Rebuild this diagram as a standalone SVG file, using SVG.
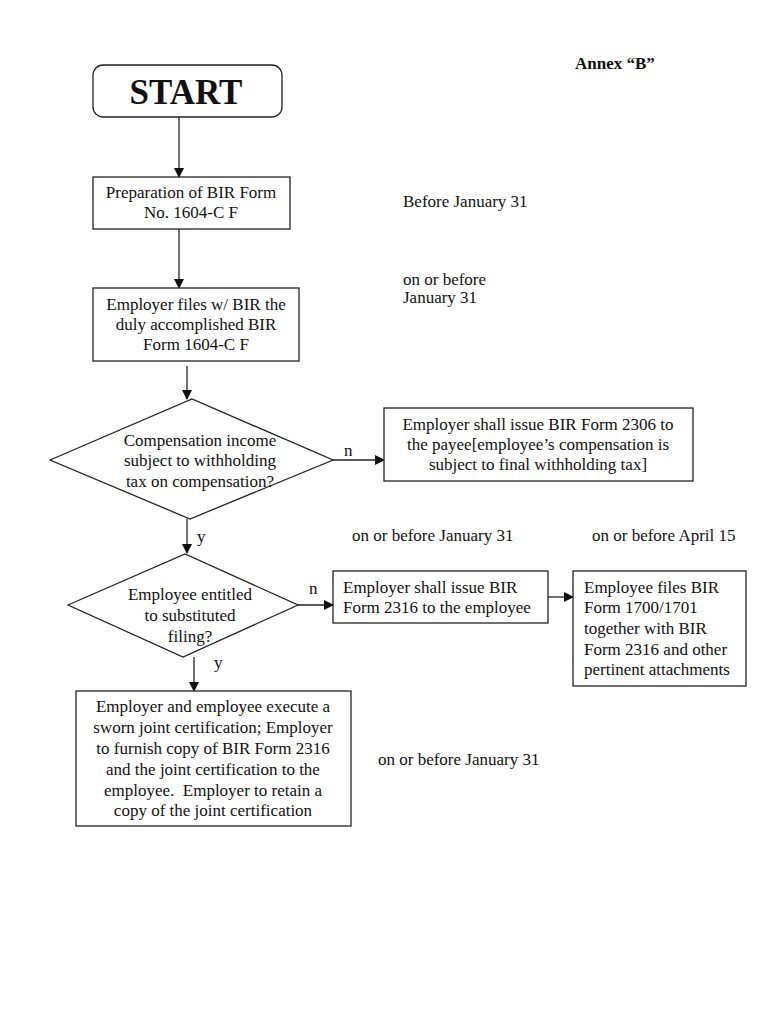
<svg xmlns="http://www.w3.org/2000/svg" width="768" height="1024" viewBox="0 0 768 1024">
<defs>
<marker id="ah" markerWidth="10" markerHeight="10" refX="9" refY="5" orient="auto" markerUnits="userSpaceOnUse">
<path d="M0,0 L10,5 L0,10 Z" fill="#111"/>
</marker>
<style>
.box{fill:#fff;stroke:#222;stroke-width:1.3}
.t{font-family:"Liberation Serif","Times New Roman",serif;font-size:17px;fill:#111}
.c{text-anchor:middle}
.ln{stroke:#222;stroke-width:1.3;fill:none;marker-end:url(#ah)}
</style>
</defs>
<rect width="768" height="1024" fill="#fff"/>
<text class="t" x="575" y="69" style="font-weight:bold">Annex “B”</text>

<g id="connectors">
<line class="ln" x1="179" y1="117" x2="179" y2="177"/>
<line class="ln" x1="179" y1="229" x2="179" y2="288"/>
<line class="ln" x1="187" y1="366" x2="187" y2="399"/>
<line class="ln" x1="333" y1="460" x2="384" y2="460"/>
<line class="ln" x1="187" y1="519" x2="187" y2="553"/>
<line class="ln" x1="298" y1="605" x2="333" y2="605"/>
<line class="ln" x1="548" y1="597" x2="573" y2="597"/>
<line class="ln" x1="194" y1="657" x2="194" y2="691"/>
<text class="t" x="344" y="456">n</text>
<text class="t" x="197" y="542">y</text>
<text class="t" x="309" y="594">n</text>
<text class="t" x="214" y="668">y</text>
</g>

<g id="start">
<rect class="box" x="93" y="65" width="189" height="52" rx="10"/>
<text class="t c" x="186" y="104" style="font-weight:bold;font-size:35px">START</text>
</g>

<g id="prep">
<rect class="box" x="93" y="177" width="197" height="52"/>
<text class="t c" x="191" y="198">Preparation of BIR Form</text>
<text class="t c" x="191" y="218">No. 1604-C F</text>
</g>

<g id="files">
<rect class="box" x="93" y="288" width="206" height="73"/>
<text class="t c" x="196" y="310">Employer files w/ BIR the</text>
<text class="t c" x="196" y="330">duly accomplished BIR</text>
<text class="t c" x="196" y="350">Form 1604-C F</text>
</g>

<g id="decision1">
<polygon class="box" points="50,460 192,399 333,460 190,519"/>
<text class="t c" x="200" y="446">Compensation income</text>
<text class="t c" x="200" y="466">subject to withholding</text>
<text class="t c" x="200" y="487">tax on compensation?</text>
</g>

<g id="issue2306">
<rect class="box" x="384" y="408" width="309" height="73"/>
<text class="t c" x="538" y="430">Employer shall issue BIR Form 2306 to</text>
<text class="t c" x="538" y="450">the payee[employee’s compensation is</text>
<text class="t c" x="538" y="470">subject to final withholding tax]</text>
</g>

<g id="decision2">
<polygon class="box" points="68,605 185,554 298,605 183,657"/>
<text class="t c" x="190" y="600">Employee entitled</text>
<text class="t c" x="190" y="621">to substituted</text>
<text class="t c" x="190" y="642">filing?</text>
</g>

<g id="issue2316">
<rect class="box" x="333" y="571" width="215" height="52"/>
<text class="t" x="343" y="593">Employer shall issue BIR</text>
<text class="t" x="343" y="613">Form 2316 to the employee</text>
</g>

<g id="employeefiles">
<rect class="box" x="573" y="571" width="173" height="115"/>
<text class="t" x="584" y="593">Employee files BIR</text>
<text class="t" x="584" y="613">Form 1700/1701</text>
<text class="t" x="584" y="634">together with BIR</text>
<text class="t" x="584" y="655">Form 2316 and other</text>
<text class="t" x="584" y="675">pertinent attachments</text>
</g>

<g id="joint">
<rect class="box" x="76" y="691" width="275" height="135"/>
<text class="t c" x="213" y="712">Employer and employee execute a</text>
<text class="t c" x="213" y="733">sworn joint certification; Employer</text>
<text class="t c" x="213" y="754">to furnish copy of BIR Form 2316</text>
<text class="t c" x="213" y="775">and the joint certification to the</text>
<text class="t c" x="213" y="796" xml:space="preserve">employee.  Employer to retain a</text>
<text class="t c" x="213" y="816">copy of the joint certification</text>
</g>

<g id="dates">
<text class="t" x="403" y="207">Before January 31</text>
<text class="t" x="403" y="285">on or before</text>
<text class="t" x="403" y="303">January 31</text>
<text class="t" x="352" y="541">on or before January 31</text>
<text class="t" x="592" y="541">on or before April 15</text>
<text class="t" x="378" y="765">on or before January 31</text>
</g>
</svg>
